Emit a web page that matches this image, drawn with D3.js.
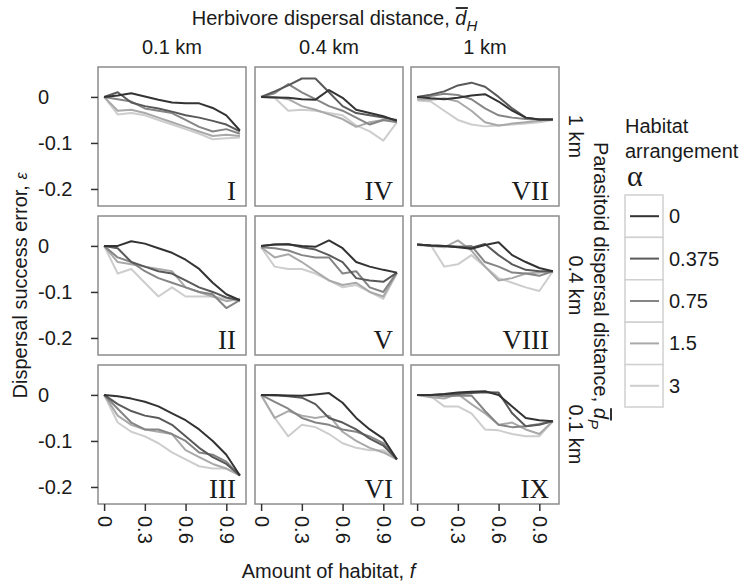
<!DOCTYPE html>
<html lang="en">
<head>
<meta charset="UTF-8">
<title>Dispersal success error</title>
<style>
  body { margin: 0; background: #fff; }
  svg { font-family: "Liberation Sans", Arial, sans-serif; }
  .axis .domain { display: none; }
  .axis .tick line { stroke: #333; stroke-width: 1.5px; }
  .axis .tick text { font-size: 20px; fill: #1a1a1a; }
  .lab { font-size: 20px; fill: #1a1a1a; }
</style>
</head>
<body>
<script src="https://cdn.jsdelivr.net/npm/d3@7/dist/d3.min.js"></script>
<script>
// amount of habitat sampled along each curve
var fValues = [0, 0.1, 0.2, 0.3, 0.4, 0.5, 0.6, 0.7, 0.8, 0.9, 1.0];
var alphaLabels = ["0", "0.375", "0.75", "1.5", "3"];
var herbivoreLabels = ["0.1 km", "0.4 km", "1 km"];
var parasitoidLabels = ["1 km", "0.4 km", "0.1 km"];
var panelNumerals = ["I", "II", "III", "IV", "V", "VI", "VII", "VIII", "IX"];
var xTicks = [0, 0.3, 0.6, 0.9];
var xTickLabels = ["0", "0.3", "0.6", "0.9"];
var yTicks = [0, -0.1, -0.2];
var yTickLabels = ["0", "-0.1", "-0.2"];

// one row per alpha (0, 0.375, 0.75, 1.5, 3)
var panelI = [
  [0, 0.003, 0.008, 0.001, -0.006, -0.012, -0.014, -0.014, -0.024, -0.040, -0.073],
  [0, 0.010, -0.012, -0.020, -0.025, -0.032, -0.040, -0.045, -0.052, -0.060, -0.075],
  [0, -0.005, -0.010, -0.025, -0.030, -0.035, -0.050, -0.065, -0.075, -0.070, -0.080],
  [0, -0.030, -0.028, -0.035, -0.045, -0.055, -0.065, -0.075, -0.085, -0.082, -0.085],
  [0, -0.038, -0.035, -0.040, -0.050, -0.060, -0.070, -0.080, -0.092, -0.090, -0.088]
];
var panelII = [
  [0, 0.000, 0.010, 0.005, -0.005, -0.015, -0.030, -0.050, -0.080, -0.105, -0.118],
  [0, -0.005, -0.035, -0.045, -0.055, -0.060, -0.075, -0.090, -0.100, -0.112, -0.118],
  [0, -0.025, -0.035, -0.055, -0.070, -0.080, -0.090, -0.100, -0.105, -0.135, -0.118],
  [0, -0.035, -0.040, -0.045, -0.050, -0.055, -0.090, -0.100, -0.110, -0.120, -0.115],
  [0, -0.060, -0.050, -0.080, -0.110, -0.090, -0.110, -0.110, -0.110, -0.115, -0.120]
];
var panelIII = [
  [0, -0.003, -0.008, -0.015, -0.025, -0.040, -0.055, -0.075, -0.100, -0.130, -0.175],
  [0, -0.020, -0.035, -0.045, -0.050, -0.065, -0.090, -0.115, -0.135, -0.150, -0.175],
  [0, -0.030, -0.060, -0.075, -0.075, -0.085, -0.100, -0.125, -0.130, -0.145, -0.175],
  [0, -0.045, -0.065, -0.075, -0.080, -0.085, -0.120, -0.135, -0.150, -0.160, -0.175],
  [0, -0.060, -0.080, -0.090, -0.105, -0.125, -0.140, -0.155, -0.160, -0.160, -0.175]
];
var panelIV = [
  [0, -0.001, -0.002, -0.005, -0.006, 0.015, -0.002, -0.028, -0.035, -0.042, -0.052],
  [0, 0.012, 0.025, 0.040, 0.040, 0.010, -0.020, -0.035, -0.040, -0.045, -0.050],
  [0, 0.008, 0.028, 0.010, -0.005, -0.020, -0.030, -0.045, -0.060, -0.050, -0.055],
  [0, 0.000, -0.005, -0.020, -0.028, -0.038, -0.048, -0.065, -0.055, -0.050, -0.052],
  [0, -0.002, -0.030, -0.028, -0.030, -0.035, -0.040, -0.062, -0.075, -0.095, -0.055]
];
var panelV = [
  [0, 0.003, 0.003, 0.000, -0.002, 0.012, -0.005, -0.035, -0.045, -0.052, -0.058],
  [0, 0.003, 0.004, -0.003, -0.008, -0.020, -0.035, -0.070, -0.075, -0.078, -0.058],
  [-0.003, -0.005, -0.010, -0.020, -0.025, -0.025, -0.060, -0.055, -0.090, -0.100, -0.058],
  [-0.003, -0.025, -0.018, -0.035, -0.055, -0.075, -0.085, -0.080, -0.100, -0.110, -0.058],
  [-0.003, -0.045, -0.050, -0.050, -0.060, -0.075, -0.090, -0.085, -0.100, -0.115, -0.060]
];
var panelVI = [
  [0, 0.000, -0.001, -0.002, 0.001, 0.004, -0.017, -0.050, -0.075, -0.095, -0.140],
  [0, -0.001, -0.003, -0.006, -0.020, -0.050, -0.060, -0.075, -0.095, -0.110, -0.140],
  [0, -0.015, -0.030, -0.050, -0.060, -0.065, -0.075, -0.080, -0.090, -0.105, -0.140],
  [0, -0.050, -0.035, -0.045, -0.050, -0.045, -0.080, -0.100, -0.115, -0.125, -0.140],
  [0, -0.050, -0.090, -0.065, -0.070, -0.085, -0.105, -0.115, -0.120, -0.120, -0.140]
];
var panelVII = [
  [0, -0.003, -0.005, -0.002, 0.003, 0.006, -0.010, -0.030, -0.045, -0.049, -0.049],
  [0, 0.005, 0.012, 0.025, 0.031, 0.022, 0.000, -0.025, -0.045, -0.049, -0.049],
  [0, 0.002, 0.007, 0.004, -0.005, -0.025, -0.040, -0.045, -0.048, -0.049, -0.049],
  [-0.005, -0.006, -0.003, -0.010, -0.030, -0.055, -0.062, -0.058, -0.055, -0.052, -0.049],
  [-0.008, -0.010, -0.030, -0.050, -0.060, -0.064, -0.062, -0.060, -0.058, -0.055, -0.050]
];
var panelVIII = [
  [0.003, 0.001, 0.000, -0.003, -0.006, 0.002, 0.008, -0.020, -0.035, -0.048, -0.055],
  [0.003, 0.001, 0.000, -0.002, -0.004, 0.004, -0.020, -0.040, -0.052, -0.055, -0.055],
  [0.003, 0.001, 0.000, -0.002, 0.000, -0.035, -0.045, -0.058, -0.060, -0.065, -0.055],
  [0.002, 0.000, -0.003, 0.012, -0.010, -0.045, -0.075, -0.070, -0.060, -0.058, -0.055],
  [0.002, 0.002, -0.045, -0.040, -0.020, -0.045, -0.070, -0.080, -0.090, -0.098, -0.055]
];
var panelIX = [
  [0, 0.000, 0.002, 0.005, 0.007, 0.008, 0.000, -0.025, -0.050, -0.055, -0.057],
  [0, 0.000, 0.001, 0.002, 0.004, 0.006, 0.005, -0.040, -0.068, -0.065, -0.057],
  [0, -0.001, -0.003, -0.002, -0.001, -0.035, -0.065, -0.070, -0.068, -0.063, -0.057],
  [0, -0.005, -0.008, 0.002, -0.020, -0.040, -0.065, -0.060, -0.075, -0.085, -0.057],
  [0, -0.003, -0.025, -0.025, -0.040, -0.075, -0.077, -0.085, -0.090, -0.090, -0.057]
];
var panelData = [panelI, panelII, panelIII, panelIV, panelV, panelVI, panelVII, panelVIII, panelIX];

var width = 755, height = 587;
var colX = [98, 255, 411], rowY = [67, 216, 365];
var pw = 148, ph = 139;

var svg = d3.select("body").append("svg").attr("width", width).attr("height", height);

var x = d3.scaleLinear().domain([-0.045, 1.045]).range([0, pw]);
var y = d3.scaleLinear().domain([-0.237, 0.065]).range([ph, 0]);
var colour = d3.scaleOrdinal().domain(alphaLabels)
  .range(["#333333", "#595959", "#858585", "#a9a9a9", "#cdcdcd"]);

var line = d3.line()
  .x(function(d, i) { return x(fValues[i]); })
  .y(function(d) { return y(d); });

panelData.forEach(function(series, p) {
  var c = Math.floor(p / 3), r = p % 3;
  var g = svg.append("g").attr("transform", "translate(" + colX[c] + "," + rowY[r] + ")");

  g.append("rect").attr("width", pw).attr("height", ph)
    .attr("fill", "#fff").attr("stroke", "#8c8c8c").attr("stroke-width", 1.5);

  // darkest on top
  for (var k = series.length - 1; k >= 0; k--) {
    g.append("path").datum(series[k])
      .attr("fill", "none")
      .attr("stroke", colour(alphaLabels[k]))
      .attr("stroke-width", 2)
      .attr("stroke-linejoin", "round")
      .attr("d", line);
  }

  g.append("text").attr("x", pw - 10).attr("y", ph - 6)
    .attr("text-anchor", "end")
    .style("font-family", "'Liberation Serif', 'Times New Roman', serif")
    .style("font-size", "27px").attr("fill", "#1a1a1a")
    .text(panelNumerals[p]);

  if (c === 0) {
    var ay = g.append("g").attr("class", "axis")
      .call(d3.axisLeft(y).tickValues(yTicks).tickSize(7)
        .tickFormat(function(d, i) { return yTickLabels[i]; }));
    ay.selectAll(".tick text")
      .attr("x", 38 - colX[0]).attr("text-anchor", "start");
  }
  if (r === 2) {
    var ax = g.append("g").attr("class", "axis").attr("transform", "translate(0," + ph + ")")
      .call(d3.axisBottom(x).tickValues(xTicks).tickSize(7)
        .tickFormat(function(d, i) { return xTickLabels[i]; }));
    ax.selectAll(".tick text")
      .attr("transform", "rotate(90)")
      .attr("x", 12).attr("y", 0).attr("dy", "0.35em")
      .attr("text-anchor", "start");
  }
  if (r === 0) {
    svg.append("text").attr("class", "lab")
      .attr("x", colX[c] + pw / 2).attr("y", rowY[0] - 13)
      .attr("text-anchor", "middle").text(herbivoreLabels[c]);
  }
  if (c === 2) {
    svg.append("text").attr("class", "lab")
      .attr("transform", "translate(" + (colX[2] + pw + 10) + "," + (rowY[r] + ph / 2) + ") rotate(90)")
      .attr("text-anchor", "middle").text(parasitoidLabels[r]);
  }
});

// adds an italic "d" with a subscript
function dLabel(t, sub) {
  t.append("tspan").style("font-style", "italic").text("d");
  t.append("tspan").style("font-style", "italic").style("font-size", "15px")
    .attr("dy", 6).text(sub);
}
function overline(parent, t, idx) {
  var e = t.node().getExtentOfChar(idx);
  parent.append("line")
    .attr("x1", e.x + 0.5).attr("x2", e.x + e.width + 1.5)
    .attr("y1", e.y + 1).attr("y2", e.y + 1)
    .attr("stroke", "#1a1a1a").attr("stroke-width", 1.8);
}

var gridMid = (colX[0] + colX[2] + pw) / 2;
var gridMidY = (rowY[0] + rowY[2] + ph) / 2;

var topG = svg.append("g");
var topText = topG.append("text").attr("class", "lab")
  .attr("x", gridMid + 6).attr("y", 25).attr("text-anchor", "middle");
topText.append("tspan").text("Herbivore dispersal distance, ");
dLabel(topText, "H");
overline(topG, topText, "Herbivore dispersal distance, ".length);

var rightG = svg.append("g")
  .attr("transform", "translate(594," + gridMidY + ") rotate(90)");
var rightText = rightG.append("text").attr("class", "lab").attr("text-anchor", "middle");
rightText.append("tspan").text("Parasitoid dispersal distance, ");
dLabel(rightText, "P");
overline(rightG, rightText, "Parasitoid dispersal distance, ".length);

var xTitle = svg.append("text").attr("class", "lab")
  .attr("x", gridMid).attr("y", 578).attr("text-anchor", "middle");
xTitle.append("tspan").text("Amount of habitat, ");
xTitle.append("tspan").style("font-style", "italic").text("f");

var yTitle = svg.append("text").attr("class", "lab")
  .attr("transform", "translate(27," + gridMidY + ") rotate(-90)")
  .attr("text-anchor", "middle");
yTitle.append("tspan").text("Dispersal success error, ");
yTitle.append("tspan").style("font-style", "italic").style("font-size", "16px").text("ε");

// legend
var legend = svg.append("g").attr("transform", "translate(625,0)");
legend.append("text").attr("class", "lab").attr("y", 133).text("Habitat");
legend.append("text").attr("class", "lab").attr("y", 158).text("arrangement");
legend.append("text").attr("x", 2).attr("y", 186)
  .style("font-family", "'Liberation Serif', 'Times New Roman', serif")
  .style("font-size", "30px").attr("fill", "#1a1a1a").text("α");

var keyH = 42.4, keyW = 38, keyTop = 195;
var keys = legend.selectAll(".key").data(alphaLabels).enter().append("g")
  .attr("class", "key")
  .attr("transform", function(d, i) { return "translate(0," + (keyTop + i * keyH) + ")"; });
keys.append("rect").attr("width", keyW).attr("height", keyH)
  .attr("fill", "#fff").attr("stroke", "#d0d0d0").attr("stroke-width", 1.5);
keys.append("line").attr("x1", 5).attr("x2", keyW - 4)
  .attr("y1", keyH / 2).attr("y2", keyH / 2)
  .attr("stroke", function(d) { return colour(d); }).attr("stroke-width", 2);
keys.append("text").attr("class", "lab")
  .attr("x", keyW + 6).attr("y", keyH / 2).attr("dy", "0.35em")
  .text(function(d) { return d; });
</script>
</body>
</html>
